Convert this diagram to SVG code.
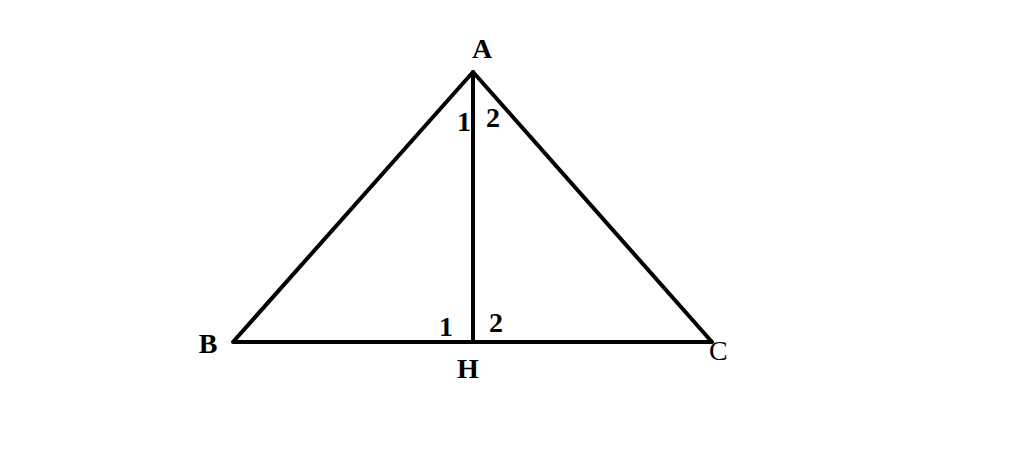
<svg xmlns="http://www.w3.org/2000/svg" width="1024" height="460" viewBox="0 0 1024 460">
<style>
.l{stroke:#000;stroke-width:4;fill:none;stroke-linecap:round;stroke-linejoin:round}
.t{font-family:"Liberation Serif","Times New Roman",serif;font-size:28px;font-weight:bold;fill:#000}
.n{font-weight:normal}
</style>
<rect width="1024" height="460" fill="#fff"/>
<g id="connectors">
<path class="l" d="M233,342 L473,72 L712,342 Z"/>
<line class="l" x1="473" y1="72" x2="473" y2="342"/>
</g>
<g id="A"><text class="t" x="482" y="58" text-anchor="middle">A</text></g>
<g id="B"><text class="t" x="208" y="353" text-anchor="middle">B</text></g>
<g id="C"><text class="t n" x="709" y="360">C</text></g>
<g id="H"><text class="t" x="468" y="378" text-anchor="middle">H</text></g>
<g id="angles">
<text class="t" x="457" y="131">1</text>
<text class="t" x="486" y="127">2</text>
<text class="t" x="439" y="336">1</text>
<text class="t" x="489" y="332">2</text>
</g>
</svg>
